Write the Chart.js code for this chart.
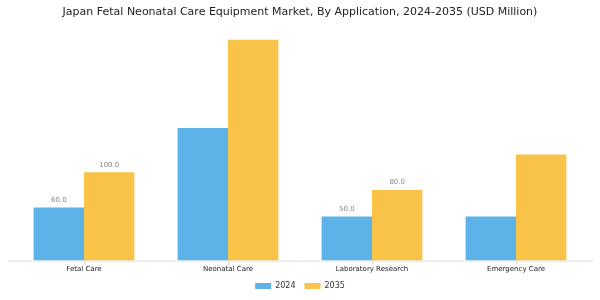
<!DOCTYPE html>
<html>
<head>
<meta charset="utf-8">
<script src="https://cdn.jsdelivr.net/npm/chart.js@4/dist/chart.umd.min.js"></script>
<style>
  html, body { margin: 0; padding: 0; background: #fff; }
  #wrap { width: 600px; height: 300px; }
</style>
</head>
<body>
<div id="wrap"><canvas id="chart"></canvas></div>
<script>
const categories = ['Fetal Care', 'Neonatal Care', 'Laboratory Research', 'Emergency Care'];
const values2024 = [60, 150, 50, 50];
const values2035 = [100, 250, 80, 120];
// which bars carry a value label in the picture
const labels2024 = [true, false, true, false];
const labels2035 = [true, false, true, false];

const valueLabels = {
    id: 'valueLabels',
    afterDatasetsDraw(chart) {
        const ctx = chart.ctx;
        const flags = [labels2024, labels2035];
        ctx.save();
        ctx.font = '7px "DejaVu Sans"';
        ctx.fillStyle = '#888';
        ctx.textAlign = 'center';
        ctx.textBaseline = 'bottom';
        chart.data.datasets.forEach((ds, i) => {
            chart.getDatasetMeta(i).data.forEach((bar, j) => {
                if (!flags[i][j]) return;
                ctx.fillText(ds.data[j].toFixed(1), bar.x, bar.y - 4);
            });
        });
        ctx.restore();
    }
};

const baseLine = {
    id: 'baseLine',
    beforeDatasetsDraw(chart) {
        const a = chart.chartArea;
        const ctx = chart.ctx;
        ctx.save();
        ctx.strokeStyle = '#ddd';
        ctx.lineWidth = 1;
        ctx.beginPath();
        ctx.moveTo(a.left - 4, a.bottom + 0.5);
        ctx.lineTo(a.right + 5, a.bottom + 0.5);
        ctx.stroke();
        ctx.restore();
    }
};

new Chart(document.getElementById('chart'), {
    type: 'bar',
    data: {
        labels: categories,
        datasets: [
            { label: '2024', data: values2024, backgroundColor: '#5DB3E8' },
            { label: '2035', data: values2035, backgroundColor: '#F9C34A' }
        ]
    },
    options: {
        responsive: true,
        maintainAspectRatio: false,
        animation: false,
        layout: { padding: { left: 12, right: 12, top: 0, bottom: 0 } },
        datasets: { bar: { categoryPercentage: 0.7, barPercentage: 1.0 } },
        plugins: {
            title: {
                display: true,
                text: 'Japan Fetal Neonatal Care Equipment Market, By Application, 2024-2035 (USD Million)',
                color: '#222',
                font: { family: 'DejaVu Sans', size: 11, weight: 'normal' },
                padding: { top: 6, bottom: 10 }
            },
            legend: {
                position: 'bottom',
                labels: {
                    boxWidth: 16,
                    boxHeight: 6,
                    color: '#333',
                    font: { family: 'DejaVu Sans', size: 8 },
                    padding: 9
                }
            },
            tooltip: { enabled: false }
        },
        scales: {
            x: {
                border: { display: false },
                grid: { display: true, offset: false, drawOnChartArea: false, tickLength: 4, color: '#ccc' },
                ticks: { color: '#222', font: { family: 'DejaVu Sans', size: 7 }, padding: 0 }
            },
            y: {
                display: false,
                min: 0,
                max: 262
            }
        }
    },
    plugins: [valueLabels, baseLine]
});
</script>
</body>
</html>
